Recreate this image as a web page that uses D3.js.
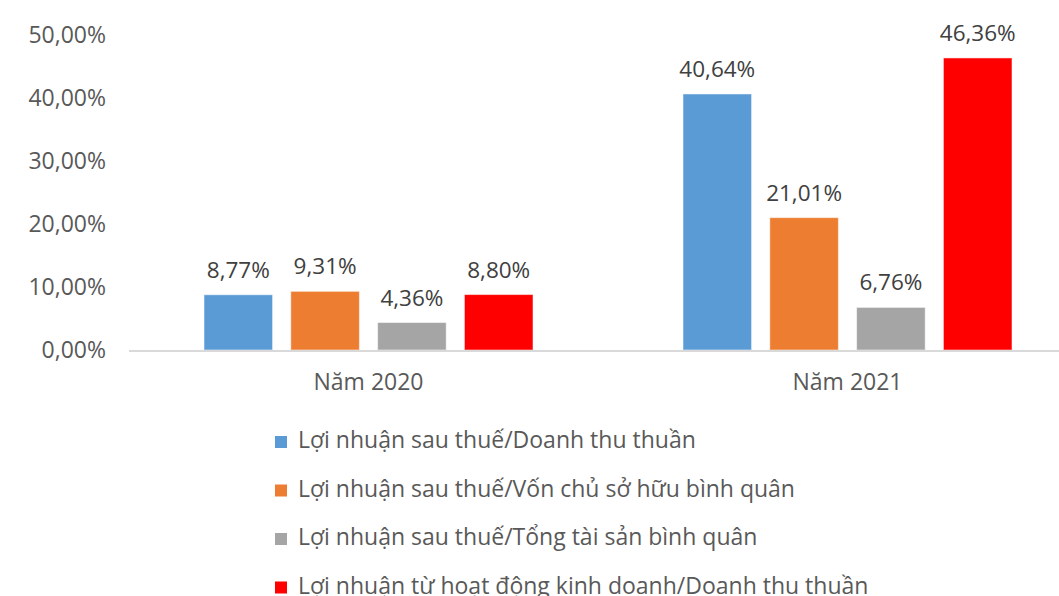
<!DOCTYPE html>
<html>
<head>
<meta charset="utf-8">
<script src="https://cdnjs.cloudflare.com/ajax/libs/d3/7.8.5/d3.min.js"></script>
<style>
  html, body { margin: 0; padding: 0; background: #fff; overflow: hidden; }
  svg { display: block; font-family: "Open Sans", "Noto Sans", sans-serif; }
</style>
</head>
<body>
<div id="chart"></div>
<script>
// chart data
const categories = ['Năm 2020', 'Năm 2021'];
const seriesNames = [
  'Lợi nhuận sau thuế/Doanh thu thuần',
  'Lợi nhuận sau thuế/Vốn chủ sở hữu bình quân',
  'Lợi nhuận sau thuế/Tổng tài sản bình quân',
  'Lợi nhuận từ hoạt động kinh doanh/Doanh thu thuần'
];
const seriesColors = ['#5B9BD5', '#ED7D31', '#A5A5A5', '#FF0000'];
// values per series, one entry per category
const seriesValues = [
  [8.77, 40.64],
  [9.31, 21.01],
  [4.36, 6.76],
  [8.80, 46.36]
];
const yTicks = [0, 10, 20, 30, 40, 50];

const width = 1059, height = 596;
const fmt = v => v.toFixed(2).replace('.', ',') + '%';

const svg = d3.select('#chart').append('svg')
  .attr('width', width)
  .attr('height', height);

// scales
const y = d3.scaleLinear().domain([0, 50]).range([350, 35]);
const x0 = d3.scaleBand().domain(categories).range([129, 1087]);
const x1 = d3.scaleBand().domain(d3.range(seriesNames.length))
  .range([75, 404]).paddingInner(0.21).paddingOuter(0);

// y axis labels (no line, no gridlines)
svg.append('g').selectAll('text')
  .data(yTicks)
  .join('text')
  .attr('x', 106)
  .attr('y', d => y(d))
  .attr('dy', '0.35em')
  .attr('text-anchor', 'end')
  .attr('font-size', 23)
  .attr('fill', '#595959')
  .text(d => d.toFixed(2).replace('.', ',') + '%');

// bars
const groups = svg.append('g').selectAll('g')
  .data(categories)
  .join('g')
  .attr('transform', d => `translate(${x0(d)},0)`);

groups.selectAll('rect')
  .data((c, ci) => seriesValues.map((vals, si) => ({ si, v: vals[ci] })))
  .join('rect')
  .attr('x', d => x1(d.si))
  .attr('y', d => y(d.v))
  .attr('width', x1.bandwidth())
  .attr('height', d => y(0) - y(d.v))
  .attr('fill', d => seriesColors[d.si])
  .attr('stroke', '#ffffff')
  .attr('stroke-opacity', 0.5)
  .attr('stroke-width', 1);

// value labels
groups.selectAll('text.val')
  .data((c, ci) => seriesValues.map((vals, si) => ({ si, v: vals[ci] })))
  .join('text')
  .attr('class', 'val')
  .attr('x', d => x1(d.si) + x1.bandwidth() / 2)
  .attr('y', d => y(d.v) - 17)
  .attr('text-anchor', 'middle')
  .attr('font-size', 22.5)
  .attr('fill', '#404040')
  .text(d => fmt(d.v));

// x axis line
svg.append('line')
  .attr('x1', x0.range()[0]).attr('x2', x0.range()[1])
  .attr('y1', y(0) + 1).attr('y2', y(0) + 1)
  .attr('stroke', '#D9D9D9')
  .attr('stroke-width', 2);

// category labels
svg.append('g').selectAll('text')
  .data(categories)
  .join('text')
  .attr('x', d => x0(d) + x0.bandwidth() / 2)
  .attr('y', 390)
  .attr('text-anchor', 'middle')
  .attr('font-size', 23)
  .attr('fill', '#595959')
  .text(d => d);

// legend
const legend = svg.append('g').selectAll('g')
  .data(seriesNames)
  .join('g')
  .attr('transform', (d, i) => `translate(275,${448 + i * 48.5})`);

legend.append('rect')
  .attr('x', 0).attr('y', -12)
  .attr('width', 12).attr('height', 12)
  .attr('fill', (d, i) => seriesColors[i]);

legend.append('text')
  .attr('x', 23)
  .attr('y', 0)
  .attr('font-size', 23)
  .attr('fill', '#595959')
  .text(d => d);
</script>
</body>
</html>
